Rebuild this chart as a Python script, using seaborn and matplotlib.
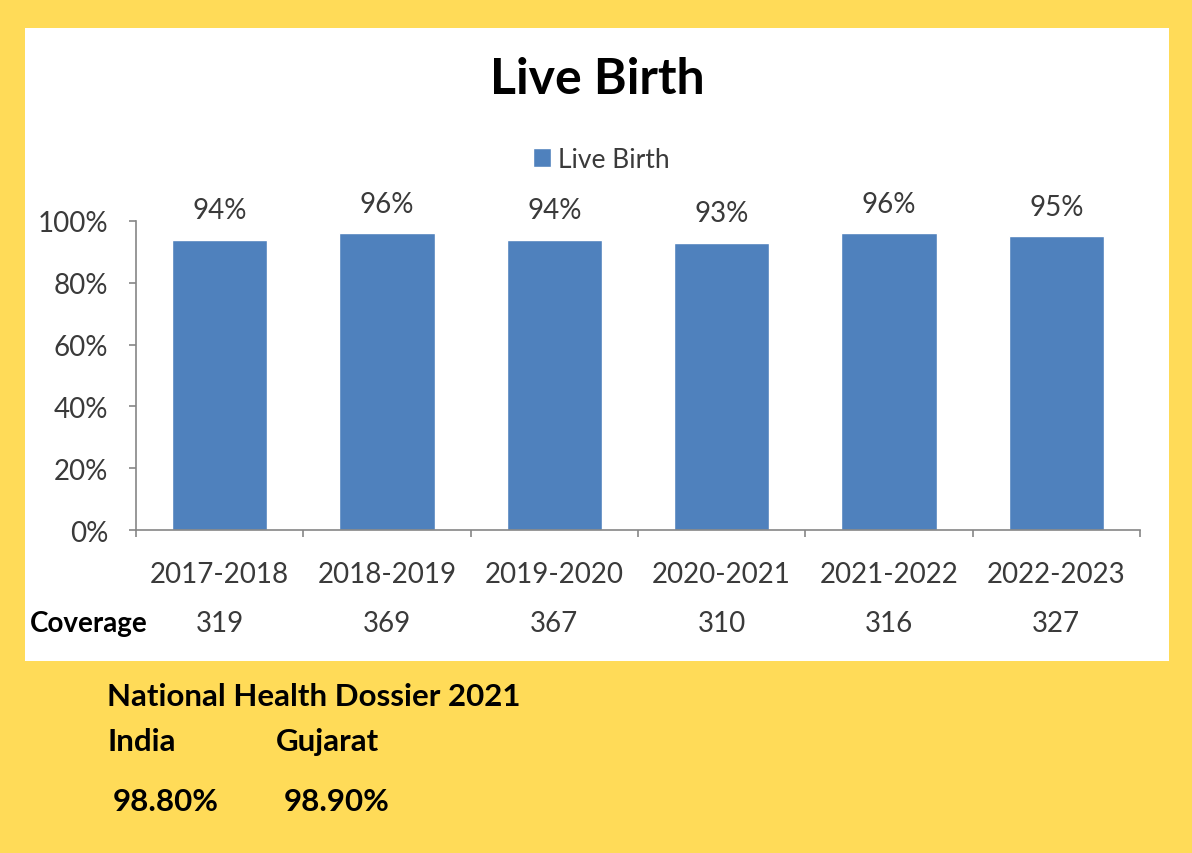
import numpy as np
import pandas as pd
import matplotlib
matplotlib.use("Agg")
import matplotlib.pyplot as plt
import seaborn as sns
from matplotlib.patches import Rectangle

# data
years = ["2017-2018", "2018-2019", "2019-2020", "2020-2021", "2021-2022", "2022-2023"]
live_birth = [94, 96, 94, 93, 96, 95]
coverage = [319, 369, 367, 310, 316, 327]
series_name = "Live Birth"
india_value = "98.80%"
gujarat_value = "98.90%"

BLUE = "#4F81BD"
YELLOW = "#FFDB58"
GREY = "#868686"
TEXT = "#3A3A3A"

sns.set_style("white")
plt.rcParams["font.family"] = ["Lato", "DejaVu Sans"]

df = pd.DataFrame({"year": years, "value": np.array(live_birth) / 100, "series": series_name})

fig = plt.figure(figsize=(11.92, 8.54), dpi=100)
fig.patch.set_facecolor(YELLOW)

# white card behind the chart
fig.add_artist(Rectangle((25 / 1192, 1 - 662 / 854), 1144 / 1192, 633 / 854,
                         transform=fig.transFigure, facecolor="white", edgecolor="none", zorder=0))

ax = fig.add_axes([136 / 1192, 1 - 531 / 854, 1004 / 1192, 309 / 854])
ax.set_facecolor("none")

sns.barplot(data=df, x="year", y="value", hue="series", palette=[BLUE],
            width=0.57, ax=ax, legend=True, saturation=1)

ax.set_ylim(0, 1)
ax.set_xlim(-0.5, len(years) - 0.5)
ax.set_yticks(np.arange(0, 1.01, 0.2))
ax.set_yticklabels([f"{int(v * 100)}%" for v in np.arange(0, 1.01, 0.2)])
ax.set_xlabel("")
ax.set_ylabel("")

for s in ["top", "right"]:
    ax.spines[s].set_visible(False)
for s in ["left", "bottom"]:
    ax.spines[s].set_color(GREY)
    ax.spines[s].set_linewidth(1.2)

ax.tick_params(axis="y", which="major", left=True, length=5, width=1.2, color=GREY,
               pad=15, labelsize=20, labelcolor=TEXT)
ax.tick_params(axis="x", which="major", length=0, pad=22, labelsize=20, labelcolor=TEXT)
ax.set_xticks(np.arange(-0.5, len(years)), minor=True)
ax.tick_params(axis="x", which="minor", bottom=True, length=5, width=1.2, color=GREY)

# data labels
for cont in ax.containers:
    ax.bar_label(cont, labels=[f"{v}%" for v in live_birth], padding=12,
                 fontsize=20, color=TEXT)

# legend
handles, labels = ax.get_legend_handles_labels()
ax.legend(handles, labels, loc="center", bbox_to_anchor=(601 / 1192, 1 - 160 / 854),
          bbox_transform=fig.transFigure, frameon=False, fontsize=19,
          handlelength=0.7, handleheight=0.7, handletextpad=0.25, labelcolor=TEXT)

# title
fig.text(597 / 1192, 1 - 80 / 854, "Live Birth", ha="center", va="center",
         fontsize=36, fontweight="bold", color="black")

# coverage row
trans = ax.get_xaxis_transform()
ax.text(-0.5 - (136 - 30) / (1004 / 6), -0.3, "Coverage", transform=trans,
        ha="left", va="center", fontsize=20, fontweight="bold", color="black")
for i, c in enumerate(coverage):
    ax.text(i, -0.3, str(c), transform=trans, ha="center", va="center",
            fontsize=20, color=TEXT)

# footer notes
foot = dict(fontsize=22.5, fontweight="bold", color="black", va="center")
fig.text(107 / 1192, 1 - 697 / 854, "National Health Dossier 2021", ha="left", **foot)
fig.text(107 / 1192, 1 - 742 / 854, "India", ha="left", **foot)
fig.text(276 / 1192, 1 - 742 / 854, "Gujarat", ha="left", **foot)
fig.text(113 / 1192, 1 - 802 / 854, india_value, ha="left", **foot)
fig.text(284 / 1192, 1 - 802 / 854, gujarat_value, ha="left", **foot)

fig.savefig("out.png", dpi=100, facecolor=fig.get_facecolor())
